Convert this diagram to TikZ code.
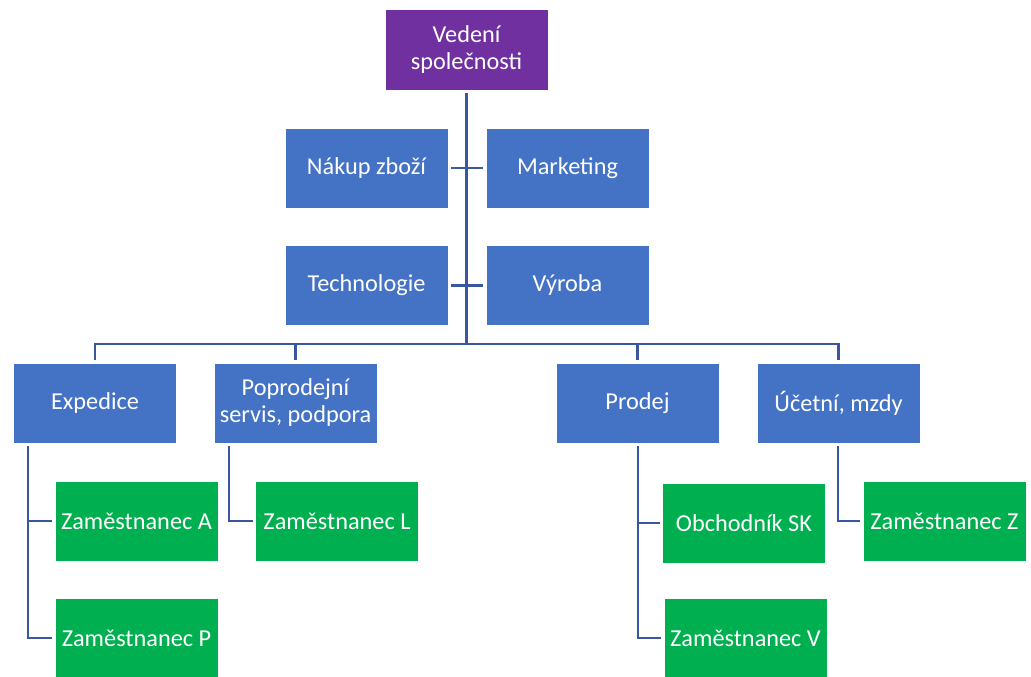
\documentclass[tikz,border=0pt]{standalone}
\usepackage{fontspec}
\setmainfont{Carlito}
\definecolor{boxblue}{RGB}{68,114,196}
\definecolor{boxpurple}{RGB}{112,48,160}
\definecolor{boxgreen}{RGB}{0,176,80}
\definecolor{linkblue}{RGB}{56,87,158}
\begin{document}
\begin{tikzpicture}[x=1pt,y=-1pt,
  box/.style={rectangle, minimum width=163pt, minimum height=80pt, inner sep=2pt,
    outer sep=3pt, draw=white, line width=0.6pt, text=white, align=center,
    font=\fontsize{24.3}{27}\selectfont},
  bluebox/.style={box, fill=boxblue},
  purplebox/.style={box, fill=boxpurple, minimum height=81pt},
  greenbox/.style={box, fill=boxgreen},
  link/.style={draw=linkblue, line width=2.8pt}]
\useasboundingbox (0,0) rectangle (1031,677);
\begin{scope}
\clip (0,0) rectangle (1031,677);
\node[purplebox] (top) at (466.5,49.5) {Vedení\\společnosti};
\node[bluebox] (nak) at (366.5,168) {Nákup zboží};
\node[bluebox] (mkt) at (567.5,168) {Marketing};
\node[bluebox] (tech) at (366.5,285.5) {Technologie};
\node[bluebox] (vyr) at (567.5,285.5) {Výroba};
\node[bluebox] (exp) at (95,403) {Expedice};
\node[bluebox] (pop) at (295.5,403) {Poprodejní\\servis, podpora};
\node[bluebox] (prod) at (637.5,403) {Prodej};
\node[bluebox] (acc) at (838.5,403) {Účetní, mzdy};
\node[greenbox] (za) at (136.5,521) {Zaměstnanec A};
\node[greenbox] (zp) at (136.5,638) {Zaměstnanec P};
\node[greenbox] (zl) at (337,521) {Zaměstnanec L};
\node[greenbox] (obch) at (744,523) {Obchodník SK};
\node[greenbox] (zv) at (745.5,638) {Zaměstnanec V};
\node[greenbox] (zz) at (944.5,521) {Zaměstnanec Z};
\end{scope}
\coordinate (bus) at (466.5,344);
\coordinate (expc) at (28,446);
\coordinate (popc) at (229,446);
\coordinate (prodc) at (638,446);
\coordinate (accc) at (838,446);
\path[link] (top.south) -- (bus);
\path[link] (nak.east) -- (mkt.west);
\path[link] (tech.east) -- (vyr.west);
\path[link] (exp.north) -- (exp.north |- bus) -- (acc.north |- bus) -- (acc.north);
\path[link] (pop.north) -- (pop.north |- bus);
\path[link] (prod.north) -- (prod.north |- bus);
\path[link] (expc) |- (za.west);
\path[link] (expc) |- (zp.west);
\path[link] (popc) |- (zl.west);
\path[link] (prodc) |- (obch.west);
\path[link] (prodc) |- (zv.west);
\path[link] (accc) |- (zz.west);
\end{tikzpicture}
\end{document}
